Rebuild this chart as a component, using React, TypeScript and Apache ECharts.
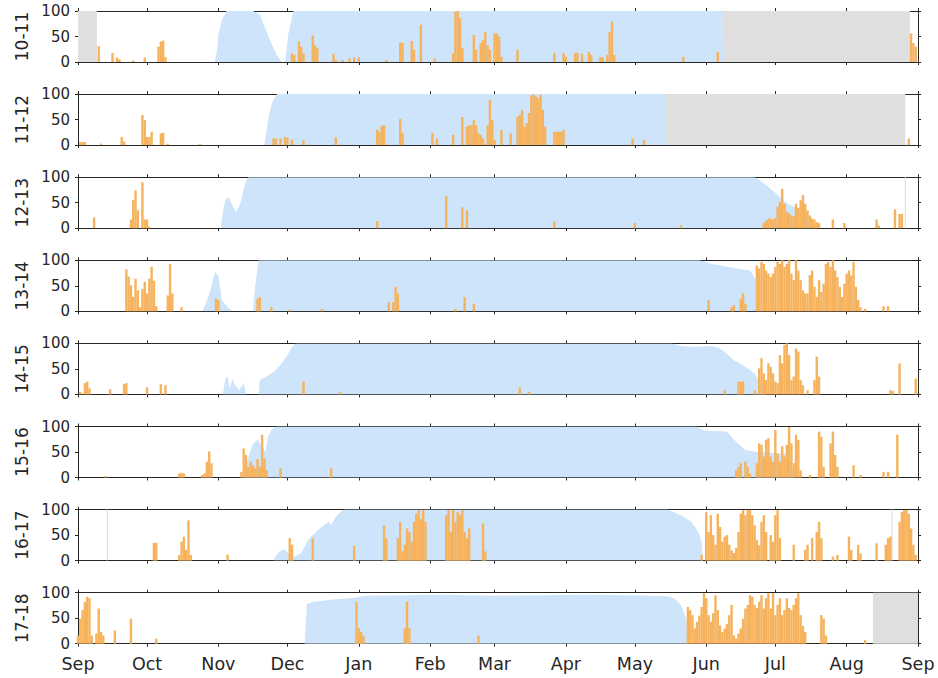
import React, { useEffect, useRef } from "react";
import * as echarts from "echarts";

// ---- axis / tick definitions (days since 1 Sep) ----
const MONTH_DAYS = [0, 30, 61, 91, 122, 153, 181, 212, 242, 273, 303, 334, 365];
const MONTH_LABELS = ["Sep", "Oct", "Nov", "Dec", "Jan", "Feb", "Mar", "Apr", "May", "Jun", "Jul", "Aug", "Sep"];
const SEASONS = ["10-11", "11-12", "12-13", "13-14", "14-15", "15-16", "16-17", "17-18"];

// ---- sea-ice concentration outlines [day, %] ----
const ice1011 = [[0, 0], [59.5, 0], [60.5, 25], [61, 55], [62.5, 82], [64.5, 100], [76, 100], [79, 93], [82, 59], [84, 37], [86.3, 14], [88.5, 0], [90, 0], [91.4, 56], [93.6, 100], [280, 100], [280.3, 0], [365, 0]];
const ice1112 = [[0, 0], [81, 0], [82, 30], [83, 60], [84.5, 85], [86.5, 100], [255, 100], [255.3, 0], [365, 0]];
const ice1213 = [[0, 0], [62, 0], [62.5, 20], [64, 55], [65.5, 61], [67, 45], [68.5, 32], [70, 42], [71, 55], [72, 78], [73, 92], [74, 100], [294, 100], [296, 95], [300, 81], [304, 65], [308.5, 48], [314, 35], [318.5, 19], [321.5, 0], [365, 0]];
const ice1314 = [[0, 0], [54, 0], [55.5, 15], [57.5, 41], [59.5, 77], [61, 70], [62.5, 22], [65, 8], [67.5, 0], [76, 0], [77, 50], [78.5, 100], [270, 100], [275, 93], [285, 85], [292, 80], [295, 60], [296, 0], [365, 0]];
const ice1415 = [[0, 0], [63, 0], [64, 30], [65, 35], [66, 10], [67, 30], [68, 20], [70, 8], [72, 22], [73, 0], [78.5, 0], [79, 28], [82, 35], [85, 44], [88, 58], [91, 77], [93, 93], [94.5, 100], [258, 100], [262, 95], [268, 93], [275, 95], [278, 92], [280, 87], [285, 67], [290, 54], [294, 41], [297, 20], [299, 0], [365, 0]];
const ice1516 = [[0, 0], [72, 0], [74, 40], [76, 65], [78, 75], [80, 60], [81.5, 50], [82.5, 80], [84, 93], [86, 100], [269, 100], [272, 92], [282, 90], [285, 74], [290, 54], [295, 50], [303, 48], [309, 45], [311, 0], [365, 0]];
const ice1617 = [[0, 0], [85, 0], [86, 10], [88, 20], [90, 22], [92, 10], [93, 5], [97, 15], [100, 40], [102, 50], [105, 63], [107, 70], [109, 76], [110, 70], [112, 86], [115, 99], [116, 100], [256, 100], [262, 89], [266.5, 76], [269.5, 56], [271, 37], [271.6, 0], [365, 0]];
const ice1718 = [[0, 0], [98.5, 0], [99.5, 78], [102, 82], [110, 86], [120, 90], [125, 94], [140, 95], [160, 96], [180, 94], [200, 95], [220, 96], [240, 95], [256, 93], [259, 89], [262, 76], [264.3, 49], [265, 0], [365, 0]];

// ---- daily values of the orange series [day, %] ----
const bars1011 = [[9, 31], [15, 18], [17, 9], [18, 5], [24, 3], [29, 9], [35, 30], [36, 40], [37, 42], [38, 10], [93, 17], [94, 14], [96, 40], [97, 30], [98, 17], [102, 52], [103, 33], [104, 27], [111, 16], [112, 4], [115, 4], [118, 7], [120, 9], [122, 9], [134, 4], [140, 38], [141, 38], [145, 41], [146, 24], [149, 73], [155, 7], [163, 17], [164, 99], [165, 100], [166, 86], [167, 27], [172, 53], [173, 24], [175, 37], [176, 43], [177, 58], [178, 33], [179, 24], [181, 56], [182, 56], [183, 50], [184, 10], [191, 24], [207, 18], [211, 17], [212, 10], [216, 18], [217, 18], [219, 16], [222, 20], [223, 14], [227, 10], [228, 9], [230, 14], [231, 59], [232, 79], [233, 14], [263, 10], [278, 20], [362, 56], [363, 37], [364, 30]];
const bars1112 = [[1, 6], [2, 6], [3, 6], [10, 3], [19, 16], [20, 7], [28, 59], [29, 49], [30, 16], [31, 16], [32, 26], [36, 23], [37, 24], [39, 3], [53, 2], [85, 13], [86, 13], [88, 13], [90, 16], [91, 15], [93, 11], [98, 9], [112, 15], [130, 30], [131, 26], [132, 38], [133, 39], [140, 51], [141, 24], [154, 24], [156, 13], [163, 20], [167, 55], [169, 36], [170, 39], [171, 39], [172, 49], [173, 39], [174, 23], [175, 20], [176, 13], [178, 39], [179, 89], [180, 49], [181, 10], [184, 30], [188, 23], [191, 56], [192, 59], [193, 69], [194, 36], [195, 43], [196, 63], [197, 97], [198, 99], [199, 95], [200, 92], [201, 99], [202, 69], [203, 36], [207, 26], [208, 26], [209, 26], [210, 26], [211, 30], [241, 13], [246, 10], [361, 13]];
const bars1213 = [[7, 21], [23, 17], [24, 55], [25, 74], [26, 35], [28, 90], [29, 17], [30, 17], [31, 3], [130, 14], [160, 63], [167, 41], [169, 35], [207, 13], [242, 10], [262, 6], [298, 10], [299, 15], [300, 19], [301, 19], [302, 17], [303, 20], [304, 42], [305, 52], [306, 77], [307, 48], [308, 32], [309, 29], [310, 25], [311, 23], [312, 48], [313, 40], [314, 55], [315, 65], [316, 48], [317, 35], [318, 25], [319, 19], [320, 17], [321, 12], [322, 10], [328, 17], [333, 10], [347, 17], [348, 5], [355, 37], [357, 28], [358, 28]];
const bars1314 = [[21, 82], [22, 68], [23, 51], [24, 28], [25, 64], [26, 41], [27, 8], [28, 44], [29, 58], [30, 35], [31, 64], [32, 87], [33, 60], [34, 10], [39, 31], [40, 93], [41, 35], [45, 8], [60, 25], [61, 22], [78, 25], [79, 28], [84, 8], [92, 3], [106, 5], [135, 18], [137, 18], [138, 48], [139, 35], [164, 5], [168, 28], [172, 15], [274, 22], [284, 8], [285, 12], [288, 25], [289, 35], [290, 15], [295, 90], [296, 84], [297, 97], [298, 93], [299, 80], [300, 74], [301, 67], [302, 74], [303, 87], [304, 97], [305, 93], [306, 100], [307, 87], [308, 93], [309, 100], [310, 74], [311, 61], [312, 100], [313, 80], [314, 61], [315, 41], [316, 35], [317, 35], [318, 71], [319, 80], [320, 48], [321, 28], [322, 61], [323, 38], [324, 54], [325, 93], [326, 97], [327, 87], [328, 100], [329, 80], [330, 67], [331, 48], [332, 28], [333, 54], [334, 74], [335, 80], [336, 70], [337, 97], [338, 48], [339, 22], [340, 8], [342, 5], [350, 10], [352, 10]];
const bars1415 = [[1, 5], [3, 22], [4, 25], [5, 12], [14, 10], [20, 20], [21, 22], [30, 14], [36, 20], [38, 18], [98, 25], [114, 5], [192, 14], [196, 5], [281, 8], [287, 25], [288, 25], [289, 25], [294, 8], [296, 51], [297, 71], [298, 41], [299, 28], [300, 61], [301, 54], [302, 41], [303, 25], [304, 22], [305, 77], [306, 61], [307, 97], [308, 100], [309, 77], [310, 28], [311, 35], [312, 90], [313, 84], [314, 28], [315, 18], [317, 8], [320, 28], [321, 74], [322, 35], [353, 8], [354, 7], [357, 61], [364, 31]];
const bars1516 = [[12, 3], [44, 8], [45, 9], [46, 8], [54, 5], [55, 8], [56, 31], [57, 51], [58, 28], [71, 11], [72, 57], [73, 44], [74, 21], [75, 31], [76, 24], [77, 18], [78, 36], [79, 21], [80, 84], [81, 38], [82, 14], [88, 18], [110, 18], [286, 14], [287, 21], [288, 28], [290, 31], [291, 21], [292, 8], [295, 28], [296, 67], [297, 64], [298, 41], [299, 74], [300, 77], [301, 41], [302, 31], [303, 93], [304, 47], [305, 31], [306, 61], [307, 41], [308, 64], [309, 99], [310, 67], [311, 28], [312, 84], [313, 74], [314, 14], [318, 5], [322, 90], [323, 80], [324, 21], [327, 67], [328, 90], [329, 44], [330, 21], [337, 24], [340, 5], [350, 11], [352, 11], [356, 84]];
const bars1617 = [[33, 35], [34, 35], [44, 11], [45, 37], [46, 47], [47, 21], [48, 79], [49, 11], [65, 12], [92, 44], [93, 31], [102, 44], [120, 29], [133, 69], [134, 44], [139, 44], [140, 76], [141, 18], [142, 31], [143, 63], [144, 56], [145, 37], [146, 76], [147, 92], [148, 99], [149, 82], [150, 99], [151, 76], [160, 89], [161, 99], [162, 56], [163, 99], [164, 76], [165, 95], [166, 89], [167, 99], [168, 56], [169, 44], [170, 63], [176, 73], [177, 18], [271, 11], [273, 95], [274, 56], [275, 89], [276, 50], [277, 31], [278, 92], [279, 66], [280, 37], [281, 47], [282, 50], [283, 31], [284, 20], [285, 15], [286, 25], [287, 56], [288, 92], [289, 99], [290, 89], [291, 99], [292, 99], [293, 89], [294, 69], [295, 40], [296, 30], [297, 76], [298, 89], [299, 56], [301, 50], [302, 37], [303, 89], [304, 99], [305, 44], [311, 31], [316, 21], [317, 31], [319, 44], [321, 56], [322, 76], [323, 44], [328, 8], [330, 11], [335, 47], [336, 21], [339, 31], [340, 14], [347, 34], [351, 31], [352, 44], [353, 47], [357, 76], [358, 95], [359, 99], [360, 99], [361, 92], [362, 63], [363, 31], [364, 11]];
const bars1718 = [[0, 16], [1, 49], [2, 66], [3, 82], [4, 92], [5, 89], [6, 16], [8, 20], [9, 69], [10, 23], [11, 16], [16, 26], [23, 49], [34, 10], [121, 82], [122, 30], [123, 23], [124, 16], [142, 30], [143, 82], [144, 30], [174, 16], [265, 72], [266, 66], [267, 56], [268, 30], [269, 43], [270, 55], [271, 72], [272, 99], [273, 89], [274, 56], [275, 43], [276, 60], [277, 95], [278, 66], [279, 36], [280, 23], [281, 30], [282, 39], [283, 56], [284, 76], [285, 16], [286, 10], [287, 20], [288, 30], [289, 49], [290, 69], [291, 76], [292, 95], [293, 92], [294, 76], [295, 70], [296, 82], [297, 95], [298, 69], [299, 89], [300, 99], [301, 69], [302, 99], [303, 56], [304, 76], [305, 89], [306, 56], [307, 66], [308, 89], [309, 70], [310, 66], [311, 76], [312, 89], [313, 99], [314, 56], [315, 35], [316, 23], [323, 56], [324, 49], [325, 16], [342, 7]];

// ---- periods without data [startDay, endDay] ----
const gaps1011 = [[0, 8.2], [280, 361.5]];
const gaps1112 = [[255, 359.5]];
const gaps1213 = [[359.3, 359.8]];
const gaps1314: number[][] = [];
const gaps1415: number[][] = [];
const gaps1516: number[][] = [];
const gaps1617 = [[12.5, 13], [353.5, 354]];
const gaps1718 = [[345.4, 365]];

const ICE = [ice1011, ice1112, ice1213, ice1314, ice1415, ice1516, ice1617, ice1718];
const BARS = [bars1011, bars1112, bars1213, bars1314, bars1415, bars1516, bars1617, bars1718];
const GAPS = [gaps1011, gaps1112, gaps1213, gaps1314, gaps1415, gaps1516, gaps1617, gaps1718];

const FONT = "DejaVu Sans";
const INK = "#262626";
const BLUE = "#CDE4FA";
const ORANGE = "#F6B25C";
const GRAY = "#DFDFDF";

function buildOption() {
  const grid: any[] = [];
  const xAxis: any[] = [];
  const yAxis: any[] = [];
  const series: any[] = [];
  const n = SEASONS.length;
  const monthLabel = (v: number) => {
    let best = 0;
    for (let k = 0; k < MONTH_DAYS.length; k++) {
      if (Math.abs(MONTH_DAYS[k] - v) < Math.abs(MONTH_DAYS[best] - v)) best = k;
    }
    return MONTH_LABELS[best];
  };
  for (let i = 0; i < n; i++) {
    grid.push({ left: 78, width: 840, top: 11 + i * 83.1, height: 51, outerBoundsMode: "none", containLabel: false });
    const tick = { show: true, inside: false, length: 3, lineStyle: { color: INK, width: 1 }, customValues: MONTH_DAYS };
    const line = { show: true, onZero: false, lineStyle: { color: INK, width: 1 } };
    xAxis.push({
      type: "value", gridIndex: i, position: "bottom", min: 0, max: 365,
      axisLine: line, axisTick: tick, splitLine: { show: false },
      axisLabel: {
        show: i === n - 1, customValues: MONTH_DAYS, formatter: monthLabel,
        fontFamily: FONT, fontSize: 17.5, color: INK, margin: 11,
      },
    });
    xAxis.push({
      type: "value", gridIndex: i, position: "top", min: 0, max: 365,
      axisLine: line, axisTick: tick, splitLine: { show: false }, axisLabel: { show: false },
    });
    const ytick = { show: true, inside: false, length: 3, lineStyle: { color: INK, width: 1 } };
    yAxis.push({
      type: "value", gridIndex: i, position: "left", min: 0, max: 100, interval: 50,
      axisLine: line, axisTick: ytick, splitLine: { show: false },
      axisLabel: { fontFamily: FONT, fontSize: 15, color: INK, margin: 8 },
      name: SEASONS[i], nameLocation: "middle", nameRotate: 90, nameGap: 47,
      nameTextStyle: { fontFamily: FONT, fontSize: 17, color: INK },
    });
    yAxis.push({
      type: "value", gridIndex: i, position: "right", min: 0, max: 100, interval: 50,
      axisLine: line, axisTick: ytick, splitLine: { show: false }, axisLabel: { show: false },
    });
    series.push({
      type: "line", xAxisIndex: 2 * i, yAxisIndex: 2 * i, data: ICE[i],
      symbol: "none", showSymbol: false, lineStyle: { width: 0 },
      areaStyle: { color: BLUE, opacity: 1 }, z: 1, silent: true,
      markArea: {
        silent: true, itemStyle: { color: GRAY },
        data: GAPS[i].map((g) => [{ xAxis: g[0] }, { xAxis: g[1] }]),
      },
    });
    series.push({
      type: "bar", xAxisIndex: 2 * i, yAxisIndex: 2 * i, data: BARS[i],
      barWidth: 2.4, itemStyle: { color: ORANGE }, z: 2, silent: true,
    });
  }
  return { animation: false, backgroundColor: "#ffffff", grid, xAxis, yAxis, series };
}

export default function App() {
  const ref = useRef<HTMLDivElement>(null);
  useEffect(() => {
    if (!ref.current) return;
    const chart = echarts.init(ref.current, null, { renderer: "svg" });
    chart.setOption(buildOption());
    return () => chart.dispose();
  }, []);
  return <div ref={ref} style={{ position: "absolute", left: 0, top: 0, width: 938, height: 678 }} />;
}
